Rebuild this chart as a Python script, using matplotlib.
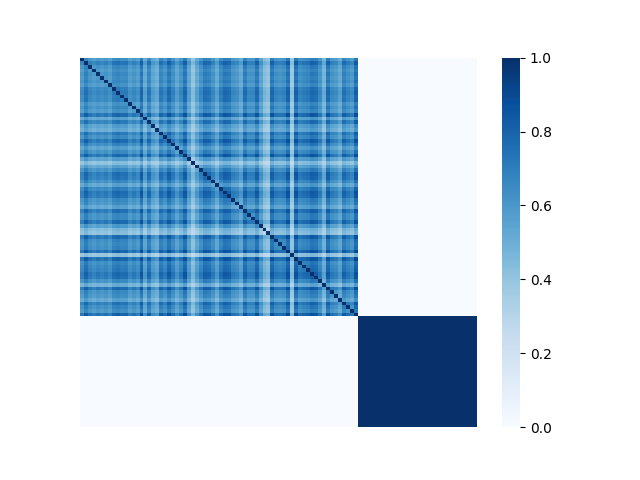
import numpy as np
import matplotlib
matplotlib.use("Agg")
import matplotlib.pyplot as plt
import seaborn as sns

# band strength of each of the first 70 items.
# NOTE: single cells were not read. The 70x70 block is approximated as the
# product of these band values, so the cell by cell mottling of the original is lost.
item_strength = [
    0.76, 0.88, 0.79, 0.75, 0.79, 0.76, 0.79, 0.74, 0.84, 0.86,
    0.83, 0.84, 0.74, 0.79, 0.74, 0.93, 0.67, 0.86, 0.69, 0.64,
    0.86, 0.79, 0.92, 0.81, 0.69, 0.79, 0.93, 0.69, 0.52, 0.67,
    0.79, 0.90, 0.88, 0.79, 0.67, 0.84, 0.92, 0.90, 0.79, 0.76,
    0.67, 0.90, 0.79, 0.79, 0.92, 0.71, 0.56, 0.52, 0.92, 0.81,
    0.79, 0.81, 0.95, 0.50, 0.95, 0.81, 0.84, 0.86, 0.92, 0.90,
    0.79, 0.61, 0.92, 0.79, 0.76, 0.67, 0.88, 0.81, 0.76, 0.95,
]
block_sizes = [70, 30]

matrix = np.zeros((sum(block_sizes), sum(block_sizes)))
s = np.array(item_strength)
matrix[:block_sizes[0], :block_sizes[0]] = np.outer(s, s)
matrix[block_sizes[0]:, block_sizes[0]:] = 1.0
np.fill_diagonal(matrix, 1.0)

fig = plt.figure(figsize=(6.4, 4.8), dpi=100)
ax = sns.heatmap(matrix, cmap="Blues", vmin=0, vmax=1,
                 xticklabels=False, yticklabels=False)
fig.savefig("out.png")
